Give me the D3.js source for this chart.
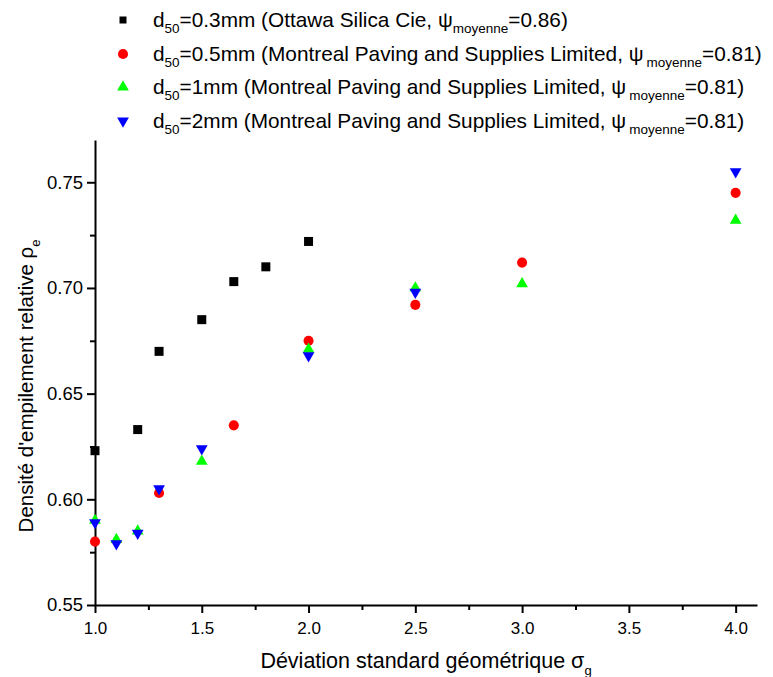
<!DOCTYPE html>
<html>
<head>
<meta charset="UTF-8">
<title>Densité d'empilement relative</title>
<script src="https://d3js.org/d3.v7.min.js"></script>
<style>
  body { margin: 0; background: #fff; }
  svg { font-family: "Liberation Sans", Arial, sans-serif; }
  .axis path, .axis line { stroke: #000; stroke-width: 2px; }
  .axis text { font-size: 17px; fill: #000; }
  .yaxis text { font-size: 18.5px; }
</style>
</head>
<body>
<svg width="773" height="677"></svg>
<script>
// données
const sigma03 = [1.0, 1.2, 1.3, 1.5, 1.65, 1.8, 2.0];
const rho03   = [0.623, 0.633, 0.670, 0.685, 0.703, 0.710, 0.722];

const sigma05 = [1.0, 1.3, 1.65, 2.0, 2.5, 3.0, 4.0];
const rho05   = [0.580, 0.603, 0.635, 0.675, 0.692, 0.712, 0.745];

const sigma1 = [1.0, 1.1, 1.2, 1.5, 2.0, 2.5, 3.0, 4.0];
const rho1   = [0.590, 0.581, 0.585, 0.618, 0.671, 0.700, 0.702, 0.732];

const sigma2 = [1.0, 1.1, 1.2, 1.3, 1.5, 2.0, 2.5, 4.0];
const rho2   = [0.589, 0.579, 0.584, 0.605, 0.624, 0.668, 0.698, 0.755];

const xTicks = [1.0, 1.5, 2.0, 2.5, 3.0, 3.5, 4.0];
const yTicks = [0.55, 0.60, 0.65, 0.70, 0.75];

const series = [
  {name: "0.3mm", source: "Ottawa Silica Cie", psi: "0.86", x: sigma03, y: rho03, color: "#000000", symbol: "square"},
  {name: "0.5mm", source: "Montreal Paving and Supplies Limited", psi: "0.81", x: sigma05, y: rho05, color: "#ff0000", symbol: "circle"},
  {name: "1mm", source: "Montreal Paving and Supplies Limited", psi: "0.81", x: sigma1, y: rho1, color: "#00ff00", symbol: "up"},
  {name: "2mm", source: "Montreal Paving and Supplies Limited", psi: "0.81", x: sigma2, y: rho2, color: "#0000ff", symbol: "down"}
];

const svg = d3.select("svg");
const plotL = 95, plotR = 757, plotT = 140, plotB = 605;

const x = d3.scaleLinear().domain([1.0, 4.1]).range([plotL, plotR]);
const y = d3.scaleLinear().domain([0.55, 0.77]).range([plotB, plotT]);

function symbolPath(kind) {
  if (kind === "square") return d3.symbol(d3.symbolSquare, 81)();
  if (kind === "circle") return d3.symbol(d3.symbolCircle, 80)();
  return d3.symbol(d3.symbolTriangle, 60)();
}
function symbolTransform(kind, px, py) {
  return kind === "down" ? `translate(${px},${py}) rotate(180)` : `translate(${px},${py})`;
}

// axes
const xAxis = svg.append("g").attr("class", "axis")
  .attr("transform", `translate(0,${plotB})`)
  .call(d3.axisBottom(x).tickValues(xTicks).tickFormat(d3.format(".1f")).tickSize(8).tickSizeOuter(0));
xAxis.selectAll("text").attr("dy", "1.05em");

svg.append("g").attr("class", "axis")
  .attr("transform", `translate(0,${plotB})`)
  .call(d3.axisBottom(x).tickValues(d3.range(1.25, 4.1, 0.5)).tickFormat("").tickSize(5).tickSizeOuter(0))
  .select(".domain").remove();

const yAxis = svg.append("g").attr("class", "axis yaxis")
  .attr("transform", `translate(${plotL},0)`)
  .call(d3.axisLeft(y).tickValues(yTicks).tickFormat(d3.format(".2f")).tickSize(8).tickSizeOuter(0));
yAxis.selectAll("text").attr("x", -12);

svg.append("g").attr("class", "axis")
  .attr("transform", `translate(${plotL},0)`)
  .call(d3.axisLeft(y).tickValues([0.575, 0.625, 0.675, 0.725]).tickFormat("").tickSize(5).tickSizeOuter(0))
  .select(".domain").remove();

// titres des axes
const xt = svg.append("text")
  .attr("x", (plotL + plotR) / 2).attr("y", 668)
  .attr("text-anchor", "middle").attr("font-size", 21.5);
xt.append("tspan").text("Déviation standard géométrique σ");
xt.append("tspan").attr("font-size", 13).attr("dy", 7).text("g");

const yt = svg.append("text")
  .attr("transform", "translate(33,386) rotate(-90)")
  .attr("text-anchor", "middle").attr("font-size", 20.5);
yt.append("tspan").text("Densité d'empilement relative ρ");
yt.append("tspan").attr("font-size", 13).attr("dy", 7).text("e");

// points
series.forEach(s => {
  svg.append("g").selectAll("path")
    .data(s.x.map((v, i) => [v, s.y[i]]))
    .join("path")
    .attr("d", symbolPath(s.symbol))
    .attr("transform", d => symbolTransform(s.symbol, x(d[0]), y(d[1])))
    .attr("fill", s.color);
});

// légende
const legendY = [20, 54, 87, 121];
series.forEach((s, i) => {
  const g = svg.append("g").attr("transform", `translate(0,${legendY[i]})`);
  g.append("path")
    .attr("d", s.symbol === "square" ? d3.symbol(d3.symbolSquare, 49)() : symbolPath(s.symbol))
    .attr("transform", symbolTransform(s.symbol, 123, 0))
    .attr("fill", s.color);
  const t = g.append("text").attr("x", 153).attr("y", 7).attr("font-size", 20.8);
  t.append("tspan").text("d");
  t.append("tspan").attr("font-size", 13.5).attr("dy", 6).text("50");
  t.append("tspan").attr("dy", -6).text(`=${s.name} (${s.source}, ψ`);
  t.append("tspan").attr("font-size", 13.5).attr("dy", 6).attr("dx", i === 0 ? 0 : 3).text("moyenne");
  t.append("tspan").attr("dy", -6).text(`=${s.psi})`);
});
</script>
</body>
</html>
